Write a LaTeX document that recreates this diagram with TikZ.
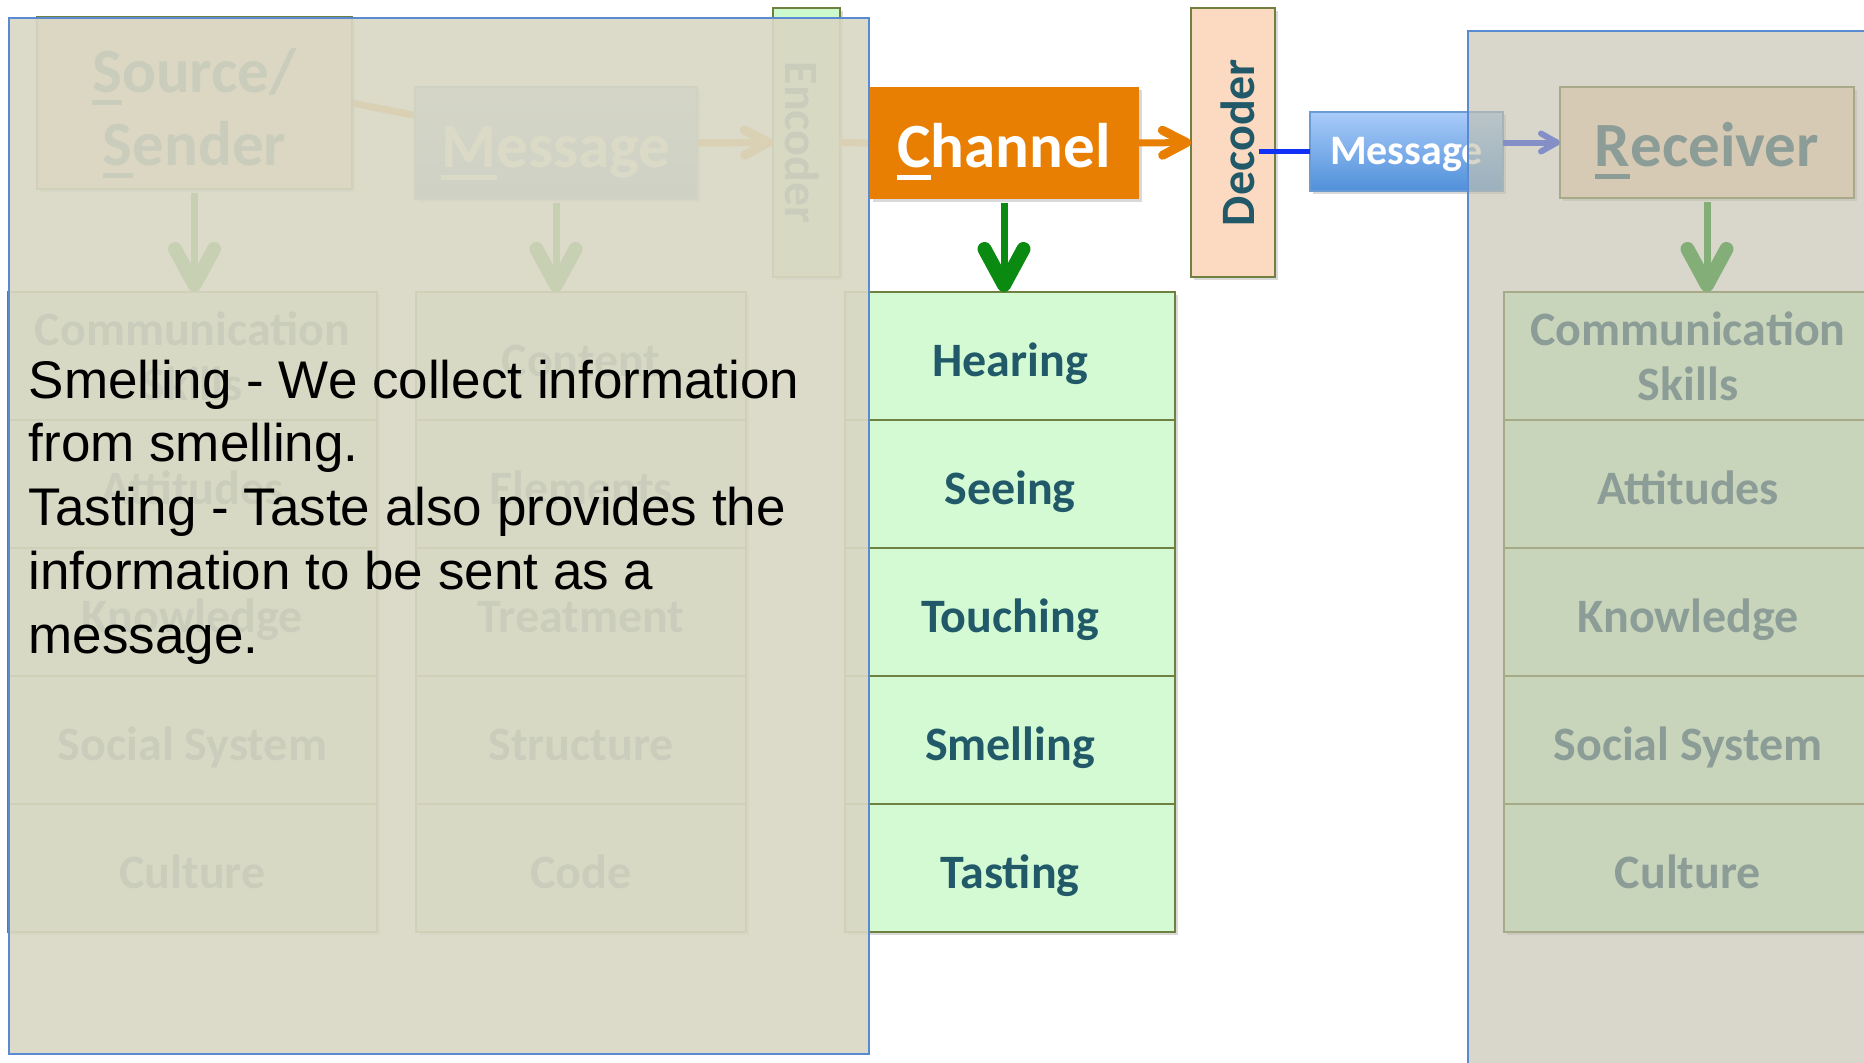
\documentclass[tikz,border=0pt]{standalone}
\usepackage{fontspec}
\setmainfont{Liberation Sans}
\newfontfamily\calibri{Carlito}
\usetikzlibrary{arrows.meta,calc,shadows,backgrounds}

\definecolor{darkteal}{HTML}{215968}
\definecolor{sensegreen}{HTML}{D4FAD4}
\definecolor{encgreen}{HTML}{CCFACC}
\definecolor{boxline}{HTML}{6F8040}
\definecolor{peach}{HTML}{FCDAC2}
\definecolor{chanorange}{HTML}{E87E02}
\definecolor{arrowgreen}{HTML}{0A8A10}
\definecolor{linkblue}{HTML}{1030F5}
\definecolor{msgtop}{HTML}{A9CBF9}
\definecolor{msgbot}{HTML}{5090DA}
\definecolor{msgline}{HTML}{6C9BD2}
\definecolor{coverL}{HTML}{D9D7C3}
\definecolor{coverR}{HTML}{C4C2AF}
\definecolor{coverline}{HTML}{5A8AD2}

% underlined first letter
\newsavebox\accbox
\newcommand\acc[1]{\sbox\accbox{#1}\rlap{\rule[-.2em]{\wd\accbox}{.08em}}\usebox\accbox}

\tikzset{
  castshadow/.style={drop shadow={opacity=.3,shadow xshift=3pt,shadow yshift=-3pt}},
  box/.style={draw=boxline, line width=1.5pt, inner sep=0pt, outer sep=0pt, castshadow},
  sense/.style={box, fill=sensegreen, text=darkteal, align=center, minimum height=128pt,
    font=\calibri\bfseries\fontsize{48}{55}\selectfont},
  one/.style={text height=47pt, text depth=7pt},
  title/.style={font=\calibri\bfseries\fontsize{63}{73}\selectfont},
  bigone/.style={text height=62pt, text depth=14pt},
  coder/.style={box, text=darkteal, minimum width=269pt,
    font=\calibri\bfseries\fontsize{48}{55}\selectfont, text height=48pt, text depth=6pt},
  bluebox/.style={draw=msgline, line width=1.5pt, top color=msgtop, bottom color=msgbot,
    text=white, inner sep=0pt, outer sep=0pt, castshadow},
  gohead/.style={draw=arrowgreen, line width=7pt, shorten <=4pt,
    -{Straight Barb[length=36pt,width=39pt,line width=14pt 0,round]}},
  ohead/.style={draw=chanorange, line width=7pt,
    -{Straight Barb[length=24pt,width=25pt,line width=9pt 0,round]}},
  oline/.style={draw=chanorange, line width=7pt},
  bline/.style={draw=linkblue, line width=5pt},
  bhead/.style={draw=linkblue, line width=6pt,
    -{Straight Barb[length=16pt,width=18pt,line width=6pt 0,round]}},
  cover/.style={draw=coverline, line width=2.5pt},
  note/.style={font=\fontsize{53}{64}\selectfont, text=black, inner sep=0pt}
}

\begin{document}
\begin{tikzpicture}[x=1pt,y=-1pt]
\useasboundingbox (0,0) rectangle (1864,1063);
\clip (0,0) rectangle (1864,1063);

% sender side
\node[box, fill=peach, text=darkteal, title, align=center, minimum width=315pt, minimum height=172pt] (src) at (194.5,103) {};
\node[text=darkteal, title, align=center, inner sep=0pt] (srctext) at ($(src.center)+(0,10)$) {\acc{S}ource/\\\acc{S}ender};
\node[bluebox, title, bigone, minimum width=282pt, minimum height=112pt] (msg) at (556,143) {\acc{M}essage};
\node[coder, fill=encgreen, minimum height=67pt, rotate=-90] (enc) at (806.5,142.5) {Encoder};

\node[sense, minimum width=369pt] (snd1) at (192.5,356) {Communication\\Skills};
\foreach \t [count=\i from 2] in {Attitudes,Knowledge,Social System,Culture}
  \node[sense, one, minimum width=369pt] (snd\i) at (192.5,228+128*\i) {\t};
\foreach \t [count=\i] in {Content,Elements,Treatment,Structure,Code}
  \node[sense, one, minimum width=330pt] (cnt\i) at (581,228+128*\i) {\t};

% channel
\foreach \t [count=\i] in {Hearing,Seeing,Touching,Smelling,Tasting}
  \node[sense, one, minimum width=330pt] (ch\i) at (1010,228+128*\i) {\t};
\node[fill=chanorange, text=white, title, bigone, inner sep=0pt, minimum width=269pt, minimum height=112pt, castshadow] (chan) at (1004,143) {\acc{C}hannel};
\node[coder, fill=peach, minimum height=84pt, rotate=90] (dec) at (1233,142.5) {Decoder};
\node[bluebox, font=\calibri\bfseries\fontsize{42}{48}\selectfont, text height=38pt, text depth=13pt, minimum width=193pt, minimum height=79pt] (msgb) at (1406.5,151.5) {Message};

% receiver side
\node[box, fill=peach, text=darkteal, title, bigone, minimum width=294pt, minimum height=111pt] (rcv) at (1707,142.5) {\acc{R}eceiver};
\node[sense, minimum width=368pt] (rcvl1) at (1688,356) {Communication\\Skills};
\foreach \t [count=\i from 2] in {Attitudes,Knowledge,Social System,Culture}
  \node[sense, one, minimum width=368pt] (rcvl\i) at (1688,228+128*\i) {\t};

% connectors
\begin{scope}[on background layer]
\draw[oline] (src.east) -- (msg.center);
\end{scope}
\draw[ohead] (msg.east) -- (enc.south);
\draw[oline] (enc.north) -- (chan.west);
\draw[ohead] (chan.east) -- (dec.north);
\coordinate (decout) at ($(dec.south)+(-16,9)$);
\draw[bline] (decout) -- (msgb.west);
\draw[bhead] (msgb.east |- rcv.west) -- (rcv.west);
\draw[gohead] (src.south) -- (src.south |- snd1.north);
\draw[gohead] (msg.south) -- (msg.south |- cnt1.north);
\draw[gohead] (chan.south) -- (chan.south |- ch1.north);
\draw[gohead] (rcv.south) -- (rcv.south |- rcvl1.north);

% covers
\draw[cover, fill=coverL, fill opacity=.92] (9,18) rectangle (869,1054);
\draw[cover, fill=coverR, fill opacity=.65] (1468,31) rectangle (1900,1100);

\foreach \l [count=\i from 0] in {Smelling - We collect information,from smelling.,Tasting - Taste also provides the,information to be sent as a,message.}
  \node[note, anchor=base west] (note\i) at (28.5,398+63.75*\i) {\l};
\end{tikzpicture}
\end{document}
